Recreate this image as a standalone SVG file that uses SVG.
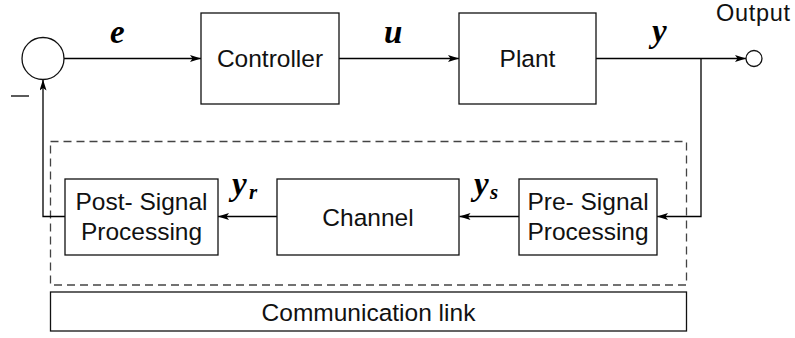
<svg xmlns="http://www.w3.org/2000/svg" width="795" height="338" viewBox="0 0 795 338">
<style>
.box{fill:#fff;stroke:#111;stroke-width:1.3}
.ln{fill:none;stroke:#000;stroke-width:1.3}
.t{font-family:"Liberation Sans",Arial,sans-serif;font-size:24.5px;fill:#111;text-anchor:middle}
.m{font-family:"Liberation Serif","Times New Roman",serif;font-style:italic;font-weight:bold;font-size:33px;fill:#000}
.s{font-family:"Liberation Serif","Times New Roman",serif;font-style:italic;font-weight:bold;font-size:21px;fill:#000}
</style>
<defs>
<marker id="arr" viewBox="0 0 11 7" refX="11" refY="3.5" markerWidth="11" markerHeight="7" markerUnits="userSpaceOnUse" orient="auto">
<path d="M0,0 L11,3.5 L0,7 L2.5,3.5 z" fill="#000"/>
</marker>
</defs>
<rect x="0" y="0" width="795" height="338" fill="#fff"/>
<g id="comm-region">
<rect x="50.5" y="141.5" width="636" height="143.5" fill="none" stroke="#444" stroke-width="1.3" stroke-dasharray="8,5"/>
</g>
<g id="connectors">
<path class="ln" d="M64,58.5 H201" marker-end="url(#arr)"/>
<path class="ln" d="M339,58.5 H459" marker-end="url(#arr)"/>
<path class="ln" d="M596,58.5 H746" marker-end="url(#arr)"/>
<path class="ln" d="M701,58.5 V216.5 H657" marker-end="url(#arr)"/>
<path class="ln" d="M519,216.5 H459.5" marker-end="url(#arr)"/>
<path class="ln" d="M277,216.5 H218" marker-end="url(#arr)"/>
<path class="ln" d="M65,216.5 H43 V79.5" marker-end="url(#arr)"/>
</g>
<g id="sum">
<circle cx="43" cy="58.5" r="21" class="box"/>
<line x1="11" y1="96" x2="29" y2="96" stroke="#333" stroke-width="1.6"/>
</g>
<g id="controller">
<rect class="box" x="201" y="13" width="138" height="91"/>
<text class="t" x="270" y="67">Controller</text>
</g>
<g id="plant">
<rect class="box" x="459" y="13" width="137" height="91"/>
<text class="t" x="527.5" y="67">Plant</text>
</g>
<g id="output">
<circle cx="754" cy="58.5" r="8" class="box"/>
<text x="716" y="21" font-family="Liberation Sans,Arial,sans-serif" font-size="23.5px" textLength="74" fill="#111">Output</text>
</g>
<g id="post">
<rect class="box" x="65" y="179" width="153" height="76"/>
<text class="t" x="141.5" y="209.5">Post- Signal</text>
<text class="t" x="141.5" y="239.5">Processing</text>
</g>
<g id="channel">
<rect class="box" x="277" y="179" width="182" height="76"/>
<text class="t" x="368" y="226">Channel</text>
</g>
<g id="pre">
<rect class="box" x="519" y="179" width="138" height="76"/>
<text class="t" x="588" y="209.5">Pre- Signal</text>
<text class="t" x="588" y="239.5">Processing</text>
</g>
<g id="comm">
<rect class="box" x="50.5" y="292" width="636" height="39"/>
<text class="t" x="368.5" y="321">Communication link</text>
</g>
<g id="labels">
<text class="m" x="110" y="43">e</text>
<text class="m" x="384" y="43">u</text>
<text class="m" x="652" y="42">y</text>
<text class="m" x="232" y="195">y</text>
<text class="s" x="249" y="199">r</text>
<text class="m" x="474" y="195">y</text>
<text class="s" x="490" y="199">s</text>
</g>
</svg>
